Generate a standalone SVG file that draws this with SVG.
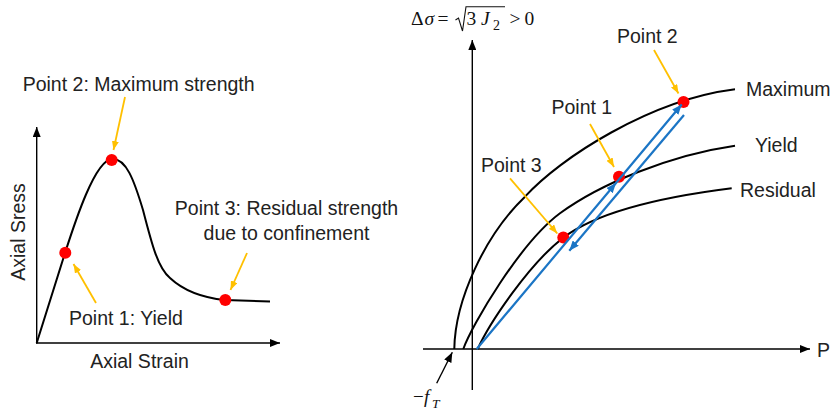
<svg xmlns="http://www.w3.org/2000/svg" width="833" height="412" viewBox="0 0 833 412">
<style>
.lbl{font-family:"Liberation Sans",Arial,sans-serif;font-size:19.5px;fill:#222}
.math{font-family:"Liberation Serif","Times New Roman",serif;fill:#111}
.axis{stroke:#000;stroke-width:1.4;fill:none}
.curve{stroke:#000;stroke-width:2;fill:none}
.orange{stroke:#FFC000;stroke-width:1.8;fill:none;marker-end:url(#oa)}
.blue{stroke:#1B75C5;stroke-width:2.2;fill:none}
.dot{fill:#FF0000}
</style>
<defs>
<marker id="ka" markerUnits="userSpaceOnUse" markerWidth="10" markerHeight="8" refX="10" refY="4" orient="auto"><path d="M0,0 L10,4 L0,8 z" fill="#000"/></marker>
<marker id="oa" markerUnits="userSpaceOnUse" markerWidth="9" markerHeight="7" refX="9" refY="3.5" orient="auto"><path d="M0,0 L9,3.5 L0,7 z" fill="#FFC000"/></marker>
<marker id="ba" markerUnits="userSpaceOnUse" markerWidth="10" markerHeight="8" refX="10" refY="4" orient="auto"><path d="M0,0 L10,4 L0,8 z" fill="#1B75C5"/></marker>
</defs>
<rect width="833" height="412" fill="#fff"/>

<g id="left-chart">
  <g id="left-axes">
    <line class="axis" x1="36.7" y1="343.5" x2="36.7" y2="127" marker-end="url(#ka)"/>
    <line class="axis" x1="36" y1="343" x2="280" y2="343" marker-end="url(#ka)"/>
    <text class="lbl" x="139.5" y="368" text-anchor="middle">Axial Strain</text>
    <text class="lbl" transform="translate(25,232) rotate(-90)" text-anchor="middle">Axial Sress</text>
  </g>
  <path id="stress-strain" class="curve" d="M36.7,343 L65,253 C75,222 95,160 112,159 C126,158 134,180 143,210 C152,245 158,268 170,278 C185,292 205,298 225,300 L270,301.5"/>
  <g id="left-point1"><circle class="dot" cx="65.3" cy="252.7" r="6"/><text class="lbl" x="69" y="325">Point 1: Yield</text></g>
  <g id="left-point2"><circle class="dot" cx="111.7" cy="160" r="6"/><text class="lbl" x="22.7" y="91">Point 2: Maximum strength</text></g>
  <g id="left-point3"><circle class="dot" cx="225.3" cy="300" r="6"/><text class="lbl" x="286.5" y="215" text-anchor="middle">Point 3: Residual strength</text><text class="lbl" x="286.5" y="240" text-anchor="middle">due to confinement</text></g>
</g>

<g id="right-chart">
  <g id="right-axes">
    <line class="axis" x1="472.3" y1="390" x2="472.3" y2="40" marker-end="url(#ka)" stroke-width="1.2"/>
    <line class="axis" x1="423" y1="349" x2="810" y2="349" marker-end="url(#ka)" stroke-width="1.2"/>
    <text class="lbl" x="817" y="357" font-size="18">P</text>
  </g>
  <g id="formula">
    <text class="math" font-size="19.5" y="25"><tspan x="411">Δ</tspan><tspan x="424.5" font-style="italic">σ</tspan><tspan x="437.5">=</tspan><tspan x="466.5">3</tspan><tspan x="481" font-style="italic">J</tspan><tspan x="493" y="30" font-size="14">2</tspan><tspan x="509.5" y="25">&gt;</tspan><tspan x="524.5">0</tspan></text>
    <polyline points="455.5,20 458.5,18 462.5,31 466,6.7 505,6.7" fill="none" stroke="#111" stroke-width="1.1"/>
  </g>
  <g id="ft-label">
    <text class="math" font-size="19" y="403"><tspan x="413">−</tspan><tspan x="424" font-style="italic">f</tspan><tspan x="432" y="407.5" font-size="13.5" font-style="italic">T</tspan></text>
  </g>
  <g id="curve-maximum"><path class="curve" d="M454.3,349 C455,300 485,235 525,196.7 C560,158 650,100 735,89.3"/><text class="lbl" x="746" y="95.7">Maximum</text></g>
  <g id="curve-yield"><path class="curve" d="M463.3,349 C472,325 520,243 560,213.3 C600,184 670,155 735,145.7"/><text class="lbl" x="755" y="152.3">Yield</text></g>
  <g id="curve-residual"><path class="curve" d="M477.7,349 C490,322 530,263 563.3,237.7 C600,210 670,196 731.7,188.3"/><text class="lbl" x="740" y="196.7">Residual</text></g>
  <g id="right-point1"><circle class="dot" cx="619" cy="176.7" r="6"/><text class="lbl" x="551.5" y="114">Point 1</text></g>
  <g id="right-point2"><circle class="dot" cx="683.5" cy="102" r="6"/><text class="lbl" x="617" y="43.3">Point 2</text></g>
  <g id="right-point3"><circle class="dot" cx="563.3" cy="237.5" r="6"/><text class="lbl" x="481" y="171.7">Point 3</text></g>
</g>

<g id="connectors">
  <line class="orange" x1="125" y1="97" x2="113.5" y2="150"/>
  <line class="orange" x1="96" y1="303" x2="73.5" y2="264"/>
  <line class="orange" x1="247" y1="253" x2="230.5" y2="290"/>
  <line class="orange" x1="654" y1="50" x2="678.5" y2="93.5"/>
  <line class="orange" x1="590" y1="124" x2="614" y2="167"/>
  <line class="orange" x1="510" y1="178.3" x2="557.3" y2="233.5"/>
  <polyline class="blue" points="476.7,349 616,183 681.7,104.5" marker-mid="url(#ba)" marker-end="url(#ba)"/>
  <line class="blue" x1="684" y1="115" x2="569.3" y2="250.7" marker-end="url(#ba)"/>
  <line x1="436.7" y1="383.3" x2="452.3" y2="352.3" stroke="#000" stroke-width="1.4" marker-end="url(#ka)"/>
</g>
</svg>
